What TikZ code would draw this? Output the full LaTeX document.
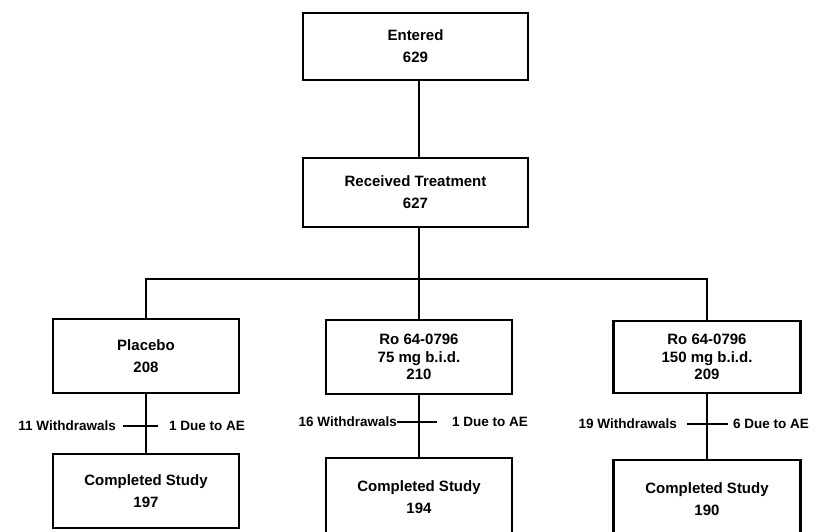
\documentclass[tikz,border=0pt]{standalone}
\usepackage{fontspec}
\setmainfont{Liberation Sans}
\begin{document}
\begin{tikzpicture}[x=1pt,y=-1pt,
  box/.style={draw, line width=2.5pt, inner sep=0pt, align=center,
    font=\bfseries\fontsize{15}{22}\selectfont},
  box3/.style={box, font=\bfseries\fontsize{15}{17.5}\selectfont},
  lab/.style={inner sep=0pt, font=\bfseries\fontsize{13.5}{16}\selectfont},
  conn/.style={line width=2.3pt}]
\useasboundingbox (0,0) rectangle (816,531);
\clip (0,0) rectangle (816,531);
\fill[white] (0,0) rectangle (816,531);

% boxes
\node[box, minimum width=225pt, minimum height=67pt] (entered) at (415.5,46.5) {Entered\\629};
\node[box, minimum width=225pt, minimum height=69pt] (received) at (415.5,192.5) {Received Treatment\\627};

\node[box, minimum width=186pt, minimum height=74pt] (placebo) at (146,356) {Placebo\\208};
\node[box3, minimum width=186pt, minimum height=74pt] (mid) at (419,357) {Ro 64-0796\\75 mg b.i.d.\\210};
\node[box3, minimum width=187pt, minimum height=72pt] (right) at (707,357) {Ro 64-0796\\150 mg b.i.d.\\209};

\node[box, minimum width=186pt, minimum height=74pt] (comp1) at (146,491) {Completed Study\\197};
\node[box, minimum width=186pt, minimum height=78pt] (comp2) at (419,497) {Completed Study\\194};
\node[box, minimum width=187pt, minimum height=78pt] (comp3) at (707,499) {Completed Study\\190};

% connectors
\coordinate (bar) at (419,279);
\draw[conn] (entered.south -| mid.north) -- (received.north -| mid.north);
\draw[conn] (received.south -| mid.north) -- (mid.north);
\draw[conn] (placebo.north) |- (bar) -| (right.north);
\draw[conn] (placebo.south) -- (comp1.north);
\draw[conn] (mid.south) -- (comp2.north);
\draw[conn] (right.south) -- (comp3.north);

% withdrawal ticks
\coordinate (t1a) at (123,426); \coordinate (t1b) at (158,426);
\coordinate (t2a) at (397,422); \coordinate (t2b) at (437,422);
\coordinate (t3a) at (687,424); \coordinate (t3b) at (728,424);
\draw[conn] (t1a) -- (t1b);
\draw[conn] (t2a) -- (t2b);
\draw[conn] (t3a) -- (t3b);

% labels
\node[lab, anchor=east] (w1) at (116,426) {11 Withdrawals};
\node[lab, anchor=west] (d1) at (169,426) {1 Due to AE};
\node[lab, anchor=east] (w2) at (397,422) {16 Withdrawals};
\node[lab, anchor=west] (d2) at (452,422) {1 Due to AE};
\node[lab, anchor=east] (w3) at (677,424) {19 Withdrawals};
\node[lab, anchor=west] (d3) at (733,424) {6 Due to AE};
\end{tikzpicture}
\end{document}
